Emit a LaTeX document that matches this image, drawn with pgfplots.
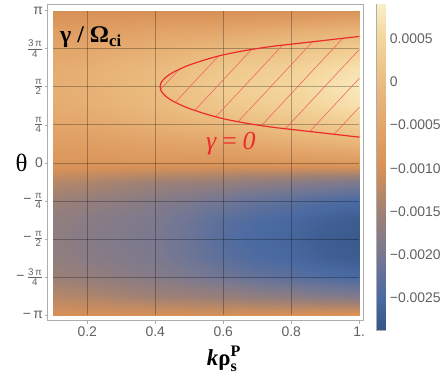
\documentclass[border=0pt]{standalone}
\usepackage{fontspec}
\setmainfont{Liberation Serif}
\newfontfamily\lsans{Liberation Sans}
\usepackage{amsmath}
\usepackage{pgfplots}
\usepackage{pgfplotstable}
\pgfplotsset{compat=1.18}
\usetikzlibrary{patterns.meta}
\definecolor{tickgray}{gray}{0.38}
\definecolor{framegray}{gray}{0.68}
\definecolor{cred}{RGB}{236,44,44}
\newcommand{\fr}[2]{$\frac{\text{#1}}{\text{#2}}$}
\pgfplotsset{colormap={m10}{rgb255(0pt)=(54,86,136) rgb255(98pt)=(74,106,162) rgb255(231pt)=(118,120,146) rgb255(363pt)=(160,129,116) rgb255(496pt)=(216,145,86) rgb255(629pt)=(227,165,106) rgb255(761pt)=(235,189,128) rgb255(894pt)=(244,214,156) rgb255(1000pt)=(250,238,198)}}

% growth rate gamma/Omega_ci in units of 1e-4, rows: theta, columns: k
\pgfplotstableread{
k t v
0.1 -3.14159 -10.2
0.2 -3.14159 -10.2
0.3 -3.14159 -10.2
0.4 -3.14159 -10.2
0.5 -3.14159 -10.2
0.6 -3.14159 -10.2
0.7 -3.14159 -10.0
0.8 -3.14159 -9.7
0.9 -3.14159 -9.5
1.0 -3.14159 -9.2
0.1 -2.74889 -13.01
0.2 -2.74889 -13.63
0.3 -2.74889 -14.48
0.4 -2.74889 -15.2
0.5 -2.74889 -15.6
0.6 -2.74889 -16.2
0.7 -2.74889 -17.0
0.8 -2.74889 -17.63
0.9 -2.74889 -18.41
1.0 -2.74889 -18.92
0.1 -2.35619 -15.49
0.2 -2.35619 -16.40
0.3 -2.35619 -17.3
0.4 -2.35619 -18.2
0.5 -2.35619 -19.3
0.6 -2.35619 -20.6
0.7 -2.35619 -22.0
0.8 -2.35619 -23.01
0.9 -2.35619 -24.22
1.0 -2.35619 -25.0
0.1 -1.96350 -16.67
0.2 -1.96350 -17.67
0.3 -1.96350 -18.5
0.4 -1.96350 -19.3
0.5 -1.96350 -20.9
0.6 -1.96350 -23.0
0.7 -1.96350 -24.5
0.8 -1.96350 -25.39
0.9 -1.96350 -26.70
1.0 -1.96350 -27.45
0.1 -1.57080 -17.0
0.2 -1.57080 -18.0
0.3 -1.57080 -18.8
0.4 -1.57080 -19.5
0.5 -1.57080 -21.3
0.6 -1.57080 -23.7
0.7 -1.57080 -25.2
0.8 -1.57080 -26.0
0.9 -1.57080 -27.3
1.0 -1.57080 -28.0
0.1 -1.17810 -16.67
0.2 -1.17810 -17.67
0.3 -1.17810 -18.5
0.4 -1.17810 -19.3
0.5 -1.17810 -20.9
0.6 -1.17810 -23.0
0.7 -1.17810 -24.5
0.8 -1.17810 -25.39
0.9 -1.17810 -26.70
1.0 -1.17810 -27.45
0.1 -0.78540 -15.49
0.2 -0.78540 -16.40
0.3 -0.78540 -17.3
0.4 -0.78540 -18.2
0.5 -0.78540 -19.3
0.6 -0.78540 -20.6
0.7 -0.78540 -22.0
0.8 -0.78540 -23.01
0.9 -0.78540 -24.22
1.0 -0.78540 -25.0
0.1 -0.39270 -13.01
0.2 -0.39270 -13.63
0.3 -0.39270 -14.48
0.4 -0.39270 -15.2
0.5 -0.39270 -15.6
0.6 -0.39270 -16.2
0.7 -0.39270 -17.0
0.8 -0.39270 -17.63
0.9 -0.39270 -18.41
1.0 -0.39270 -18.92
0.1 0 -8.7
0.2 0 -8.7
0.3 0 -8.7
0.4 0 -8.7
0.5 0 -8.7
0.6 0 -8.7
0.7 0 -8.5
0.8 0 -8.2
0.9 0 -8.0
1.0 0 -7.7
0.1 0.39270 -6.94
0.2 0.39270 -6.75
0.3 0.39270 -6.20
0.4 0.39270 -5.70
0.5 0.39270 -5.34
0.6 0.39270 -4.98
0.7 0.39270 -4.21
0.8 0.39270 -3.43
0.9 0.39270 -2.71
1.0 0.39270 -1.97
0.1 0.78540 -4.96
0.2 0.78540 -4.61
0.3 0.78540 -3.65
0.4 0.78540 -2.84
0.5 0.78540 -1.89
0.6 0.78540 -1.01
0.7 0.78540 -0.02
0.8 0.78540 0.96
0.9 0.78540 2.10
1.0 0.78540 3.23
0.1 1.17810 -3.53
0.2 1.17810 -3.07
0.3 1.17810 -1.85
0.4 1.17810 -0.89
0.5 1.17810 0.60
0.6 1.17810 1.92
0.7 1.17810 2.93
0.8 1.17810 3.94
0.9 1.17810 5.35
1.0 1.17810 6.75
0.1 1.57080 -3.0
0.2 1.57080 -2.5
0.3 1.57080 -1.2
0.4 1.57080 -0.2
0.5 1.57080 1.5
0.6 1.57080 3.0
0.7 1.57080 4.0
0.8 1.57080 5.0
0.9 1.57080 6.5
1.0 1.57080 8.0
0.1 1.96350 -3.53
0.2 1.96350 -3.07
0.3 1.96350 -1.85
0.4 1.96350 -0.89
0.5 1.96350 0.60
0.6 1.96350 1.92
0.7 1.96350 2.93
0.8 1.96350 3.94
0.9 1.96350 5.35
1.0 1.96350 6.75
0.1 2.35619 -4.96
0.2 2.35619 -4.61
0.3 2.35619 -3.65
0.4 2.35619 -2.84
0.5 2.35619 -1.89
0.6 2.35619 -1.01
0.7 2.35619 -0.02
0.8 2.35619 0.96
0.9 2.35619 2.10
1.0 2.35619 3.23
0.1 2.74889 -6.94
0.2 2.74889 -6.75
0.3 2.74889 -6.20
0.4 2.74889 -5.70
0.5 2.74889 -5.34
0.6 2.74889 -4.98
0.7 2.74889 -4.21
0.8 2.74889 -3.43
0.9 2.74889 -2.71
1.0 2.74889 -1.97
0.1 3.14159 -10.2
0.2 3.14159 -10.2
0.3 3.14159 -10.2
0.4 3.14159 -10.2
0.5 3.14159 -10.2
0.6 3.14159 -10.2
0.7 3.14159 -10.0
0.8 3.14159 -9.7
0.9 3.14159 -9.5
1.0 3.14159 -9.2
}\gammadata

\pgfplotstableread{
k t
1.0 2.6108
0.95 2.5708
0.9 2.5308
0.85 2.4908
0.8 2.4508
0.75 2.4108
0.7 2.3608
0.65 2.3008
0.6 2.2308
0.55 2.1358
0.5 2.0208
0.475 1.9458
0.45 1.8608
0.44 1.8158
0.43 1.7608
0.42 1.6888
0.416 1.6388
0.414 1.5708
0.416 1.5028
0.42 1.4528
0.43 1.3808
0.44 1.3258
0.45 1.2808
0.475 1.1958
0.5 1.1208
0.55 1.0058
0.6 0.9108
0.65 0.8408
0.7 0.7808
0.75 0.7308
0.8 0.6908
0.85 0.6508
0.9 0.6108
0.95 0.5708
1.0 0.5308
}\contourdata

\begin{document}
\begin{tikzpicture}
\path[use as bounding box] (0bp,0bp) rectangle (446bp,377bp);

\begin{axis}[
  at={(47.7bp,56.3bp)}, anchor=south west, scale only axis,
  width=315.3bp, height=316bp,
  xmin=0.0835, xmax=1.0109, ymin=-3.259, ymax=3.266,
  axis line style={framegray, line width=0.8bp},
  tick align=outside, major tick length=3bp,
  every tick/.style={framegray, line width=0.6bp},
  xtick pos=left, ytick pos=left,
  xtick={0.2,0.4,0.6,0.8,1}, xticklabels={0.2,0.4,0.6,0.8,1.},
  ytick={-3.14159,-2.35619,-1.5708,-0.7854,0,0.7854,1.5708,2.35619,3.14159},
  yticklabels={{−\,π},{−\,\fr{3\,π}{4}},{−\,\fr{π}{2}},{−\,\fr{π}{4}},{0},{\fr{π}{4}},{\fr{π}{2}},{\fr{3\,π}{4}},{π}},
  tick label style={font=\lsans\fontsize{14}{16}\selectfont, text=tickgray},
  yticklabel style={inner sep=1.5bp},
  colormap name=m10, point meta min=-28.7, point meta max=9.0,
]
\addplot[surf, shader=interp, mesh/cols=10, point meta=explicit] table[x=k, y=t, meta=v] {\gammadata};
% grid lines
\addplot[black, opacity=0.28, line width=0.7bp] coordinates {(0.2,-3.14159) (0.2,3.14159)};
\addplot[black, opacity=0.28, line width=0.7bp] coordinates {(0.4,-3.14159) (0.4,3.14159)};
\addplot[black, opacity=0.28, line width=0.7bp] coordinates {(0.6,-3.14159) (0.6,3.14159)};
\addplot[black, opacity=0.28, line width=0.7bp] coordinates {(0.8,-3.14159) (0.8,3.14159)};
\addplot[black, opacity=0.28, line width=0.7bp] coordinates {(0.1,-2.35619) (1,-2.35619)};
\addplot[black, opacity=0.28, line width=0.7bp] coordinates {(0.1,-1.5708) (1,-1.5708)};
\addplot[black, opacity=0.28, line width=0.7bp] coordinates {(0.1,-0.7854) (1,-0.7854)};
\addplot[black, opacity=0.28, line width=0.7bp] coordinates {(0.1,0) (1,0)};
\addplot[black, opacity=0.28, line width=0.7bp] coordinates {(0.1,0.7854) (1,0.7854)};
\addplot[black, opacity=0.28, line width=0.7bp] coordinates {(0.1,1.5708) (1,1.5708)};
\addplot[black, opacity=0.28, line width=0.7bp] coordinates {(0.1,2.35619) (1,2.35619)};
% hatched unstable region and gamma = 0 contour
\addplot[draw=none, pattern={Lines[angle=47, distance=19.7bp, line width=0.55bp]}, pattern color=cred!75] table[x=k, y=t] {\contourdata};
\addplot[cred, line width=1.2bp, smooth] table[x=k, y=t] {\contourdata};
\end{axis}

% colour bar
\begin{axis}[
  at={(376.7bp,47bp)}, anchor=south west, scale only axis,
  width=9bp, height=326bp,
  xmin=0, xmax=1, ymin=-28.7, ymax=9.0,
  axis line style={framegray, line width=0.6bp},
  xtick=\empty,
  ytick={-25,-20,-15,-10,-5,0,5},
  yticklabels={−0.0025,−0.0020,−0.0015,−0.0010,−0.0005,0,0.0005},
  minor ytick={-28,-27,...,8},
  yticklabel pos=right, ytick pos=right,
  tick align=inside, major tick length=4bp, minor tick length=2bp,
  every tick/.style={framegray, line width=0.5bp},
  tick label style={font=\lsans\fontsize{14}{16}\selectfont, text=tickgray},
  yticklabel style={inner sep=0pt, xshift=4bp},
  colormap name=m10, point meta min=-28.7, point meta max=9.0,
]
\addplot[surf, shader=interp, mesh/cols=2, point meta=explicit] table[meta=v] {
x y v
0 -28.7 -28.7
1 -28.7 -28.7
0 9.0 9.0
1 9.0 9.0
};
\end{axis}

\node[anchor=base west, inner sep=0pt, font=\bfseries\fontsize{24}{28}\selectfont] at (60bp,334bp) {γ / Ω\(_{\text{\bfseries ci}}\)};
\node[anchor=base west, inner sep=0pt, text=cred, font=\itshape\fontsize{26}{28}\selectfont] at (206bp,227bp) {γ\,=\,0};
\node[inner sep=0pt, font=\fontsize{25}{28}\selectfont] at (21.5bp,214bp) {θ};
\node[anchor=base, inner sep=0pt, font=\bfseries\fontsize{23}{26}\selectfont] at (224bp,12bp) {\textit{k}ρ\(^{\text{\bfseries P}}_{\text{\bfseries s}}\)};
\end{tikzpicture}
\end{document}
